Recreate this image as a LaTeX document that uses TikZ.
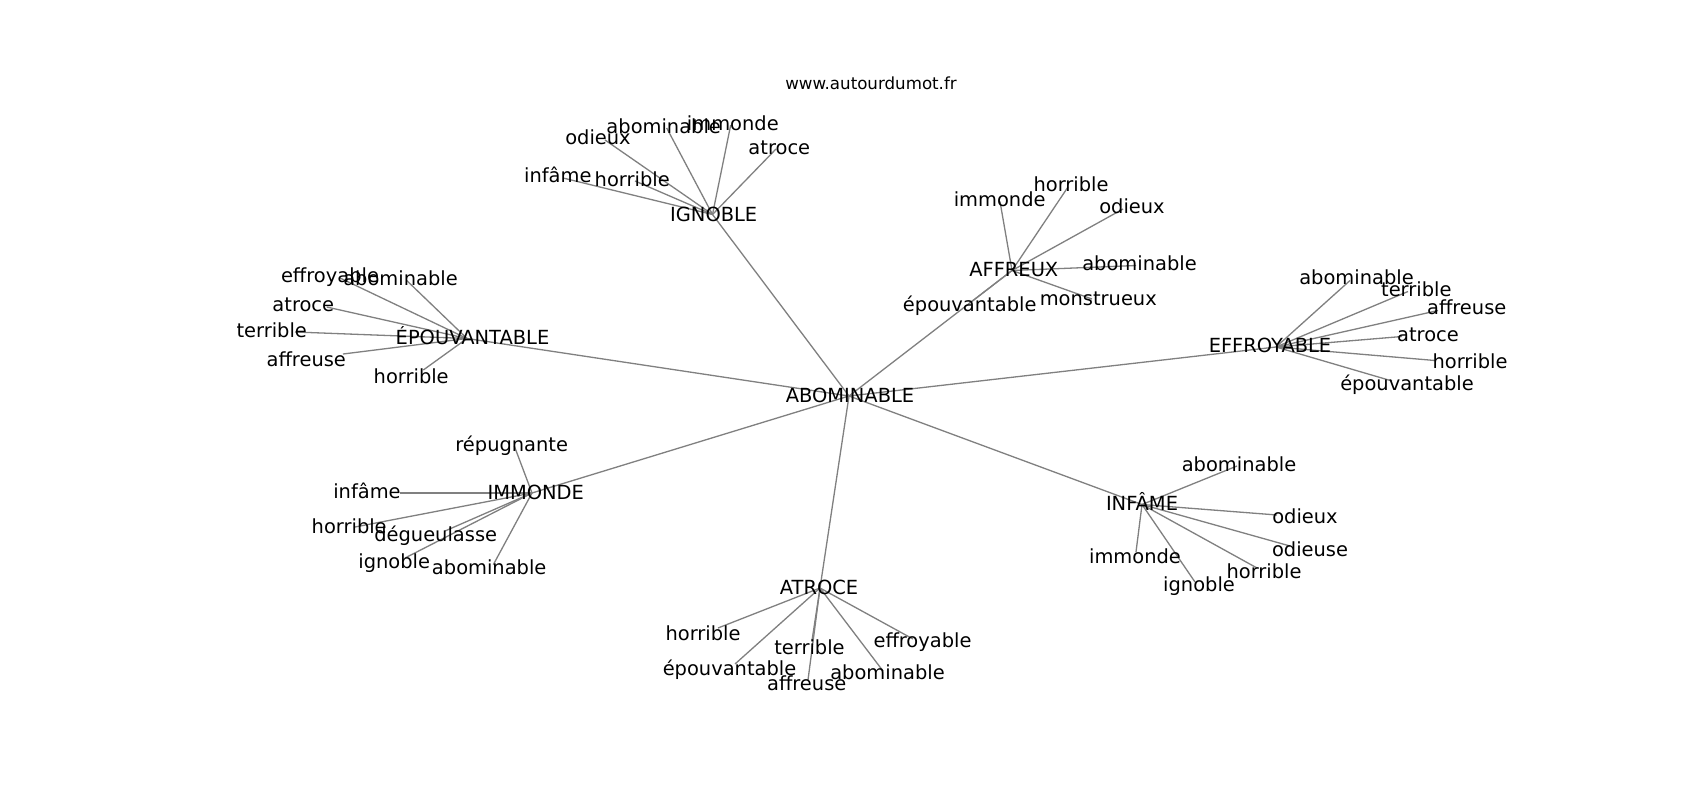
\documentclass[tikz,border=0pt]{standalone}
\usepackage{fontspec}
\setmainfont{DejaVu Sans}
\pgfdeclarelayer{edges}
\pgfsetlayers{edges,main}
\tikzset{
  lab/.style={anchor=base, inner sep=0pt, text=black, font=\fontsize{19.44}{23}\selectfont},
  ttl/.style={anchor=base, inner sep=0pt, text=black, font=\fontsize{16.67}{20}\selectfont},
  conn/.style={draw=gray, line width=1.3pt}
}
\newcommand\mkleaf[7]{%
  \coordinate (#2) at (#3,#4);
  \node[lab] (#2-t) at (#5,#6) {#7};
  \begin{pgfonlayer}{edges}\draw[conn] (#1) -- (#2);\end{pgfonlayer}}
\begin{document}
\begin{tikzpicture}[x=1pt,y=-1pt]
\begin{pgfonlayer}{edges}
\fill[white] (0,0) rectangle (1700,800);
\end{pgfonlayer}
\useasboundingbox (0,0) rectangle (1700,800);

\node[ttl] (title) at (871,89) {www.autourdumot.fr};

% hubs
\coordinate (abo) at (849,396);   \node[lab] (abo-t) at (850,402.5) {ABOMINABLE};
\coordinate (ign) at (712.5,214.5); \node[lab] (ign-t) at (713.7,221.7) {IGNOBLE};
\coordinate (epo) at (467,338.5);   \node[lab] (epo-t) at (472.5,344.3) {ÉPOUVANTABLE};
\coordinate (aff) at (1012,270.5); \node[lab] (aff-t) at (1013.8,276.5) {AFFREUX};
\coordinate (eff) at (1276,347);  \node[lab] (eff-t) at (1270,352.7) {EFFROYABLE};
\coordinate (imm) at (532,493);   \node[lab] (imm-t) at (535.8,499) {IMMONDE};
\coordinate (atr) at (820,588); \node[lab] (atr-t) at (819,594.3) {ATROCE};
\coordinate (inf) at (1142,504.5); \node[lab] (inf-t) at (1142,510.5) {INFÂME};

\begin{pgfonlayer}{edges}
\foreach \h in {ign,epo,aff,eff,imm,atr,inf} \draw[conn] (abo) -- (\h);
\end{pgfonlayer}

% IGNOBLE
\mkleaf{ign}{ign1}{563}{178}{557.8}{182.3}{infâme}
\mkleaf{ign}{ign2}{635}{181}{632.2}{186}{horrible}
\mkleaf{ign}{ign3}{605}{140}{598}{144.3}{odieux}
\mkleaf{ign}{ign4}{666.7}{128}{663.7}{133.3}{abominable}
\mkleaf{ign}{ign5}{730.7}{125}{732.8}{130}{immonde}
\mkleaf{ign}{ign6}{776}{149}{779.3}{154}{atroce}

% EPOUVANTABLE
\mkleaf{epo}{epo1}{340}{278}{330}{282.7}{effroyable}
\mkleaf{epo}{epo2}{406.7}{280.5}{400.5}{285.3}{abominable}
\mkleaf{epo}{epo3}{326.7}{307}{303.3}{311}{atroce}
\mkleaf{epo}{epo4}{295}{332}{271.7}{337.2}{terrible}
\mkleaf{epo}{epo5}{343}{354}{306.3}{366.2}{affreuse}
\mkleaf{epo}{epo6}{423.3}{370}{411.2}{383.8}{horrible}

% AFFREUX
\mkleaf{aff}{aff1}{1000}{201.5}{999.7}{206.5}{immonde}
\mkleaf{aff}{aff2}{1068}{187}{1071}{191.7}{horrible}
\mkleaf{aff}{aff3}{1123}{209}{1132}{213.7}{odieux}
\mkleaf{aff}{aff4}{1136}{265.5}{1139.5}{270}{abominable}
\mkleaf{aff}{aff5}{1092}{299}{1098.3}{305.5}{monstrueux}
\mkleaf{aff}{aff6}{968.49}{304}{969.7}{311.3}{épouvantable}

% EFFROYABLE
\mkleaf{eff}{eff1}{1350}{280.5}{1356.5}{284.2}{abominable}
\mkleaf{eff}{eff2}{1408}{291.5}{1416.3}{296.5}{terrible}
\mkleaf{eff}{eff3}{1438}{310.5}{1466.7}{314.8}{affreuse}
\mkleaf{eff}{eff4}{1402}{336.5}{1428}{341.5}{atroce}
\mkleaf{eff}{eff5}{1435}{360.5}{1470}{368.8}{horrible}
\mkleaf{eff}{eff6}{1392}{381}{1407}{390.3}{épouvantable}

% IMMONDE
\mkleaf{imm}{imm1}{514.3}{446}{511.7}{451.7}{répugnante}
\mkleaf{imm}{imm2}{400}{493}{367}{498.5}{infâme}
\mkleaf{imm}{imm3}{355}{527}{349.2}{533.7}{horrible}
\mkleaf{imm}{imm4}{445}{531}{435.7}{541}{dégueulasse}
\mkleaf{imm}{imm5}{405}{558}{394.2}{568.7}{ignoble}
\mkleaf{imm}{imm6}{493.3}{564.7}{489.2}{574.7}{abominable}

% ATROCE
\mkleaf{atr}{atr1}{718}{628}{703}{640.5}{horrible}
\mkleaf{atr}{atr2}{735}{664}{729.5}{675.5}{épouvantable}
\mkleaf{atr}{atr3}{812}{640.5}{809.5}{654}{terrible}
\mkleaf{atr}{atr4}{808}{680}{806.7}{690.3}{affreuse}
\mkleaf{atr}{atr5}{883}{671}{887.5}{679.5}{abominable}
\mkleaf{atr}{atr6}{913}{639}{922.5}{647}{effroyable}

% INFAME
\mkleaf{inf}{inf1}{1237}{466}{1239}{471}{abominable}
\mkleaf{inf}{inf2}{1277}{515}{1305}{523.3}{odieux}
\mkleaf{inf}{inf3}{1290}{546}{1310}{556.3}{odieuse}
\mkleaf{inf}{inf4}{1257}{568}{1264}{578.8}{horrible}
\mkleaf{inf}{inf5}{1195}{582}{1199}{591.3}{ignoble}
\mkleaf{inf}{inf6}{1136}{552}{1135}{563.2}{immonde}
\end{tikzpicture}
\end{document}
